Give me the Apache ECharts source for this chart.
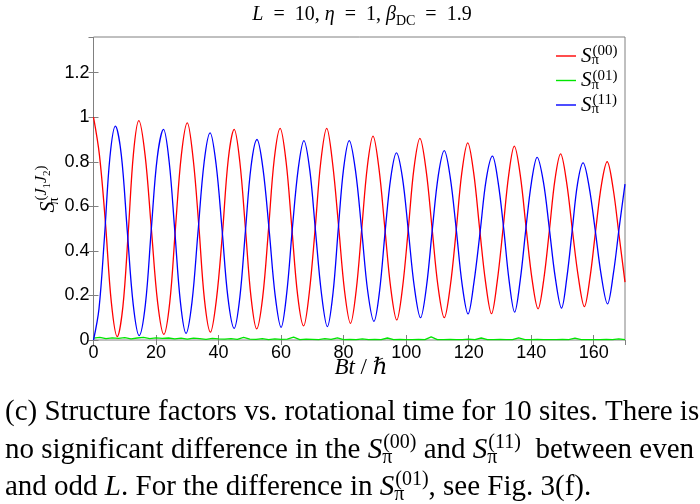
<!DOCTYPE html>
<html>
<head>
<meta charset="utf-8">
<script src="https://cdn.jsdelivr.net/npm/echarts@6/dist/echarts.min.js"></script>
<style>
  html, body { margin: 0; padding: 0; background: #fff; }
  #chart { width: 700px; height: 504px; }
</style>
</head>
<body>
<div id="chart"></div>
<script>
// S_pi^(00)  (red)
const tS00 = [0, 1.9, 3.8, 5.7, 7.6, 9.4, 11.1, 12.8, 14.5, 16.5, 18.5, 20.5, 22.5, 24.4, 26.2, 28.1, 30.0,
  31.9, 33.7, 35.5, 37.4, 39.3, 41.2, 43.1, 45.0, 46.8, 48.6, 50.4, 52.2, 54.1, 56.0, 57.8, 59.7,
  61.6, 63.4, 65.3, 67.2, 69.0, 70.9, 72.7, 74.6, 76.5, 78.4, 80.3, 82.2, 84.0, 85.8, 87.6, 89.4,
  91.3, 93.2, 95.1, 97.0, 98.8, 100.7, 102.5, 104.4, 106.4, 108.3, 110.2, 112.2, 114.1, 116.0, 117.8, 119.7,
  121.6, 123.5, 125.4, 127.3, 129.1, 131.0, 132.8, 134.6, 136.5, 138.4, 140.3, 142.2, 144.0, 145.8, 147.6, 149.4,
  151.3, 153.2, 155.1, 157.0, 158.8, 160.6, 162.5, 164.3, 166.2, 168.1, 170.0]
const vS00 = [1.00, 0.83, 0.53, 0.17, 0.015, 0.15, 0.48, 0.84, 0.985, 0.83, 0.50, 0.17, 0.025, 0.17, 0.50, 0.83, 0.975,
  0.81, 0.51, 0.18, 0.035, 0.18, 0.47, 0.81, 0.945, 0.80, 0.50, 0.19, 0.05, 0.19, 0.50, 0.81, 0.95,
  0.80, 0.51, 0.20, 0.063, 0.21, 0.50, 0.80, 0.95, 0.79, 0.51, 0.22, 0.075, 0.22, 0.50, 0.78, 0.915,
  0.77, 0.50, 0.23, 0.09, 0.23, 0.50, 0.77, 0.905, 0.76, 0.50, 0.24, 0.10, 0.24, 0.49, 0.75, 0.885,
  0.75, 0.50, 0.26, 0.118, 0.26, 0.50, 0.74, 0.87, 0.74, 0.50, 0.27, 0.14, 0.27, 0.49, 0.72, 0.835,
  0.71, 0.49, 0.28, 0.15, 0.28, 0.49, 0.70, 0.80, 0.68, 0.47, 0.26]

// S_pi^(11)  (blue)
const tS11 = [0, 1.75, 3.5, 5.25, 7.0, 8.9, 10.8, 12.7, 14.6, 16.6, 18.5, 20.4, 22.4, 24.2, 26.0, 27.8, 29.6,
  31.5, 33.4, 35.4, 37.3, 39.2, 41.1, 43.0, 45.0, 46.8, 48.6, 50.4, 52.3, 54.2, 56.2, 58.1, 60.0,
  61.8, 63.6, 65.5, 67.3, 69.2, 71.0, 72.9, 74.8, 76.6, 78.3, 80.0, 81.8, 83.8, 85.8, 87.7, 89.7,
  91.5, 93.3, 95.1, 96.9, 98.8, 100.7, 102.6, 104.6, 106.5, 108.4, 110.3, 112.2, 114.1, 116.0, 117.9, 119.8,
  121.7, 123.7, 125.6, 127.6, 129.4, 131.2, 132.9, 134.7, 136.5, 138.3, 140.1, 141.9, 143.9, 145.8, 147.7, 149.7,
  151.4, 153.1, 154.8, 156.6, 158.5, 160.5, 162.4, 164.4, 166.3, 168.1, 170.0]
const vS11 = [0.00, 0.14, 0.46, 0.82, 0.96, 0.83, 0.49, 0.16, 0.02, 0.16, 0.50, 0.82, 0.945, 0.80, 0.49, 0.17, 0.03,
  0.17, 0.48, 0.80, 0.93, 0.79, 0.50, 0.19, 0.052, 0.19, 0.49, 0.78, 0.90, 0.77, 0.49, 0.20, 0.057,
  0.21, 0.50, 0.77, 0.895, 0.76, 0.49, 0.21, 0.06, 0.21, 0.50, 0.77, 0.895, 0.76, 0.49, 0.22, 0.084,
  0.22, 0.49, 0.73, 0.84, 0.73, 0.49, 0.24, 0.10, 0.24, 0.50, 0.74, 0.85, 0.73, 0.50, 0.25, 0.117,
  0.26, 0.49, 0.72, 0.825, 0.71, 0.50, 0.27, 0.125, 0.27, 0.50, 0.71, 0.82, 0.71, 0.50, 0.28, 0.143,
  0.28, 0.49, 0.70, 0.795, 0.69, 0.49, 0.29, 0.162, 0.30, 0.50, 0.70]

// S_pi^(01)  (green), close to zero
const tS01 = [0, 2, 4, 6, 8, 10, 12, 14, 16, 18, 20, 22, 24, 26, 28, 30, 32, 34, 36, 38, 40,
  42, 44, 46, 48, 50, 52, 54, 56, 58, 60, 62, 64, 66, 68, 70, 72, 74, 76, 78, 80,
  82, 84, 86, 88, 90, 92, 94, 96, 98, 100, 102, 104, 106, 108, 110, 112, 114, 116, 118, 120,
  122, 124, 126, 128, 130, 132, 134, 136, 138, 140, 142, 144, 146, 148, 150, 152, 154, 156, 158, 160,
  162, 164, 166, 168, 170]
const vS01 = [0.008, 0.012, 0.006, 0.010, 0.007, 0.011, 0.005, 0.009, 0.012, 0.006, 0.010,
  0.007, 0.009, 0.005, 0.008, 0.004, 0.008, 0.006, 0.003, 0.007, 0.005,
  0.004, 0.006, 0.003, 0.012, 0.004, 0.003, 0.006, 0.002, 0.005, 0.003,
  0.004, 0.013, 0.002, 0.004, 0.003, 0.002, 0.006, 0.003, 0.010, 0.002,
  0.003, 0.002, 0.005, 0.002, 0.003, 0.002, 0.009, 0.002, 0.003, 0.002,
  0.002, 0.003, 0.002, 0.014, 0.002, 0.002, 0.003, 0.002, 0.002, 0.004,
  0.002, 0.009, 0.002, 0.002, 0.003, 0.002, 0.002, 0.010, 0.002, 0.002,
  0.003, 0.002, 0.002, 0.002, 0.003, 0.002, 0.008, 0.002, 0.002, 0.002,
  0.002, 0.003, 0.002, 0.005, 0.002]

const xMin = 0, xMax = 170, xStep = 20
const yMin = 0, yMax = 1.36, yStep = 0.2

const zip = (t, v) => t.map((x, i) => [x, v[i]])

const serif = "'Liberation Serif', 'DejaVu Serif', serif"
const sans = "'Liberation Sans', Arial, sans-serif"
const axisGray = '#808080'

// rich styles for math-like text (sub is zero-width so sup stacks above it)
const mathRich = (size, lh) => {
  const s = Math.round(size * 0.7)
  const line = lh || size + 6
  return {
    n: { fontFamily: serif, fontSize: size, color: '#000', lineHeight: line },
    i: { fontFamily: serif, fontSize: size, fontStyle: 'italic', color: '#000', lineHeight: line },
    sub: { fontFamily: serif, fontSize: s, color: '#000', verticalAlign: 'bottom', lineHeight: s, width: 1 },
    sup: { fontFamily: serif, fontSize: s, color: '#000', verticalAlign: 'top', lineHeight: s },
    subr: { fontFamily: serif, fontSize: s, color: '#000', verticalAlign: 'bottom', lineHeight: s }
  }
}

const legendText = {
  S00: '{i|S}{sub|π}{sup|(00)}',
  S01: '{i|S}{sub|π}{sup|(01)}',
  S11: '{i|S}{sub|π}{sup|(11)}'
}

const chart = echarts.init(document.getElementById('chart'))

const captionRich = mathRich(29)

const option = {
  animation: false,
  backgroundColor: '#fff',
  grid: { left: 93.5, right: 75, top: 37, bottom: 164, show: true, borderColor: axisGray, borderWidth: 1 },
  legend: {
    orient: 'vertical',
    left: 551,
    top: 39,
    itemWidth: 20,
    itemHeight: 10,
    itemGap: 0.5,
    icon: 'path://M0,4.3 L20,4.3 L20,5.7 L0,5.7 Z',
    data: ['S00', 'S01', 'S11'],
    formatter: name => legendText[name],
    textStyle: { rich: mathRich(21, 24) }
  },
  xAxis: [{
    type: 'value', min: xMin, max: xMax, interval: xStep,
    axisLine: { show: false },
    axisTick: { inside: true, length: 5, lineStyle: { color: axisGray } },
    splitLine: { show: false },
    axisLabel: { margin: 4, color: '#000', fontFamily: sans, fontSize: 18, showMaxLabel: false }
  }, {
    type: 'value', min: xMin, max: xMax, interval: xStep, position: 'top',
    axisLine: { show: false },
    axisTick: { inside: true, length: 5, lineStyle: { color: axisGray } },
    splitLine: { show: false },
    axisLabel: { show: false }
  }],
  yAxis: [{
    type: 'value', min: yMin, max: yMax, interval: yStep,
    axisLine: { show: false },
    axisTick: { inside: true, length: 5, lineStyle: { color: axisGray } },
    splitLine: { show: false },
    axisLabel: { margin: 4, color: '#000', fontFamily: sans, fontSize: 18, showMaxLabel: false }
  }, {
    type: 'value', min: yMin, max: yMax, interval: yStep, position: 'right',
    axisLine: { show: false },
    axisTick: { inside: true, length: 5, lineStyle: { color: axisGray } },
    splitLine: { show: false },
    axisLabel: { show: false }
  }],
  series: [
    { name: 'S00', type: 'line', data: zip(tS00, vS00), symbol: 'none', smooth: 0.35, color: '#ff0000', lineStyle: { width: 1.3, color: '#ff0000' } },
    { name: 'S01', type: 'line', data: zip(tS01, vS01), symbol: 'none', color: '#00e600', lineStyle: { width: 1.3, color: '#00e600' } },
    { name: 'S11', type: 'line', data: zip(tS11, vS11), symbol: 'none', smooth: 0.35, color: '#0000ff', lineStyle: { width: 1.3, color: '#0000ff' } }
  ],
  graphic: [
    {
      type: 'text', x: 362, y: 15, silent: true,
      style: {
        text: '{i|L}{n|  =  10, }{i|η}{n|  =  1, }{i|β}{subr|DC}{n|  =  1.9}',
        rich: mathRich(20), align: 'center', verticalAlign: 'middle'
      }
    },
    {
      type: 'text', x: 361, y: 368, silent: true,
      style: { text: '{i|Bt}{n| / }{i|ℏ}', rich: mathRich(23), align: 'center', verticalAlign: 'middle' }
    },
    {
      type: 'text', x: 48, y: 189, rotation: Math.PI / 2, silent: true,
      style: {
        text: '{i|S}{sub|π}{sup|(}{supi|J}{ss|1}{supi|J}{ss|2}{sup|)}',
        align: 'center', verticalAlign: 'middle',
        rich: Object.assign(mathRich(22), {
          supi: { fontFamily: serif, fontSize: 16, fontStyle: 'italic', color: '#000', verticalAlign: 'top', lineHeight: 16 },
          ss: { fontFamily: serif, fontSize: 11, color: '#000', verticalAlign: 'top', lineHeight: 11, padding: [8, 0, 0, 0] }
        })
      }
    },
    {
      type: 'text', x: 5, y: 412, silent: true,
      style: { text: '{n|(c) Structure factors vs. rotational time for 10 sites. There is}', rich: captionRich, verticalAlign: 'middle' }
    },
    {
      type: 'text', x: 5, y: 450, silent: true,
      style: { text: '{n|no significant difference in the }{i|S}{sub|π}{sup|(00)}{n| and }{i|S}{sub|π}{sup|(11)}{n|  between even}', rich: captionRich, verticalAlign: 'middle' }
    },
    {
      type: 'text', x: 5, y: 487, silent: true,
      style: { text: '{n|and odd }{i|L}{n|. For the difference in }{i|S}{sub|π}{sup|(01)}{n|, see Fig. 3(f).}', rich: captionRich, verticalAlign: 'middle' }
    }
  ]
}

chart.setOption(option)
</script>
</body>
</html>
